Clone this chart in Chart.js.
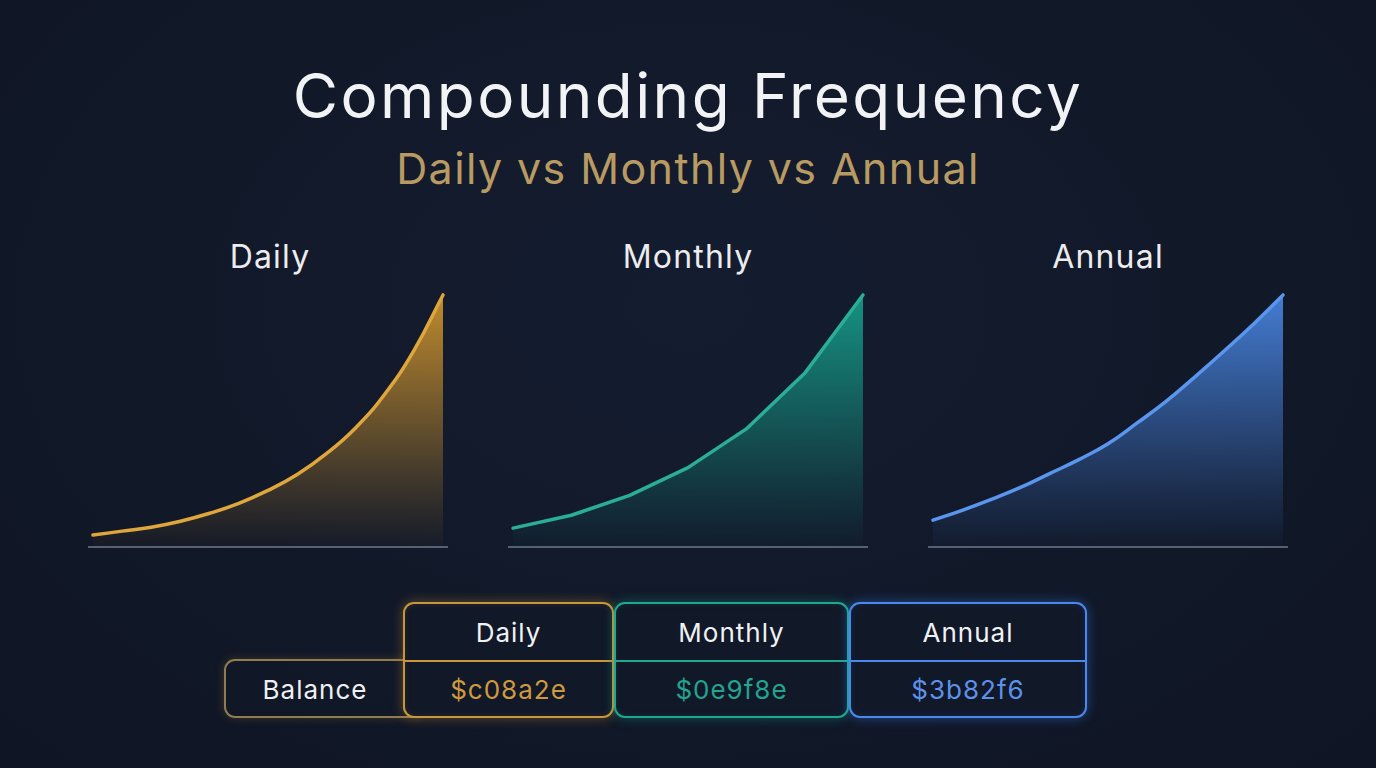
<!DOCTYPE html>
<html>
<head>
<meta charset="utf-8">
<script src="https://cdn.jsdelivr.net/npm/chart.js@4.4.0/dist/chart.umd.min.js"></script>
<style>
  html, body { margin: 0; padding: 0; }
  body {
    width: 1376px; height: 768px; overflow: hidden; position: relative;
    background: radial-gradient(ellipse at 50% 40%, #141d30 0%, #111828 60%, #0f1524 100%);
    font-family: "Inter", "Noto Sans", sans-serif; color: #f2f3f5;
  }
  .title { position: absolute; left: 0; width: 1376px; top: 58px; text-align: center;
    font-size: 62px; font-weight: 400; letter-spacing: 2.4px; }
  .subtitle { position: absolute; left: 0; width: 1376px; top: 142px; text-align: center;
    font-size: 43px; color: #b89a62; letter-spacing: 1.4px; }
  .panel-title { position: absolute; width: 360px; top: 237px; text-align: center; font-size: 32px;
    color: #ececee; letter-spacing: 1.2px; }
  .box { position: absolute; box-sizing: border-box; border: 2px solid; border-radius: 11px; }
  .cell { position: absolute; left: 0; right: 0; height: 57px; line-height: 57px; text-align: center;
    font-size: 26px; letter-spacing: 1px; }
  canvas { position: absolute; }
</style>
</head>
<body>
<div class="title">Compounding Frequency</div>
<div class="subtitle">Daily vs Monthly vs Annual</div>

<div class="panel-title" style="left:90px">Daily</div>
<div class="panel-title" style="left:508px">Monthly</div>
<div class="panel-title" style="left:928px">Annual</div>

<div style="position:absolute; left:88px; top:288px; width:360px; height:260px"><canvas id="dailyChart"></canvas></div>
<div style="position:absolute; left:508px; top:288px; width:360px; height:260px"><canvas id="monthlyChart"></canvas></div>
<div style="position:absolute; left:928px; top:288px; width:360px; height:260px"><canvas id="annualChart"></canvas></div>

<!-- tablo -->
<div class="box" style="left:224px; top:659px; width:200px; height:59px; border-color:#8f7d52; box-shadow:0 0 10px rgba(192,138,46,0.25)">
  <div class="cell" style="top:0; width:178px; color:#eef0f2">Balance</div>
</div>
<div id="tableCols"></div>

<script>
// x ekseni: dönem numaraları, y: bakiye (grafikten okunan tahmini değerler)
const dailyPeriods = [0, 1, 2, 3, 4, 5, 6, 7, 8, 9, 10, 11, 12];
const dailyBalance = [13, 17, 21, 27, 35, 45, 58, 74, 95, 121, 155, 199, 255];

const monthlyPeriods = [0, 1, 2, 3, 4, 5, 6];
const monthlyBalance = [20, 33, 53, 81, 120, 176, 255];

const annualPeriods = [0, 1, 2, 3, 4, 5, 6, 7, 8, 9, 10, 11, 12];
const annualBalance = [28, 38, 49, 61, 75, 89, 105, 126, 148, 173, 199, 226, 255];

// tablo
const tableHeaders = ['Daily', 'Monthly', 'Annual'];
const tableValues = ['$c08a2e', '$0e9f8e', '$3b82f6'];

function rgba(rgb, a) {
    return 'rgba(' + rgb.join(',') + ',' + a + ')';
}

// taban çizgisi + çizgi altı hafif gölge
const baseLine = {
    id: 'baseLine',
    beforeDatasetsDraw(chart) {
        const a = chart.chartArea;
        const c = chart.ctx;
        c.save();
        c.strokeStyle = '#566074';
        c.lineWidth = 2;
        c.beginPath();
        c.moveTo(0, a.bottom - 1);
        c.lineTo(chart.width, a.bottom - 1);
        c.stroke();
        c.restore();
    }
};

function makeChart(id, xs, ys, lineColor, fillRgb, tension, pad) {
    const points = xs.map((x, i) => ({ x: x, y: ys[i] }));
    new Chart(document.getElementById(id).getContext('2d'), {
        type: 'line',
        data: {
            datasets: [{
                data: points,
                borderColor: lineColor,
                borderWidth: 3.5,
                borderCapStyle: 'round',
                borderJoinStyle: 'round',
                pointRadius: 0,
                tension: tension,
                fill: 'origin',
                backgroundColor: function (ctx) {
                    const a = ctx.chart.chartArea;
                    if (!a) return null;
                    const g = ctx.chart.ctx.createLinearGradient(0, a.top, 0, a.bottom);
                    g.addColorStop(0, rgba(fillRgb, 0.92));
                    g.addColorStop(0.45, rgba(fillRgb, 0.5));
                    g.addColorStop(0.8, rgba(fillRgb, 0.18));
                    g.addColorStop(1, rgba(fillRgb, 0.02));
                    return g;
                }
            }]
        },
        options: {
            responsive: true,
            maintainAspectRatio: false,
            animation: false,
            layout: { padding: 0 },
            scales: {
                x: { type: 'linear', display: false, min: xs[0] - pad, max: xs[xs.length - 1] + pad },
                y: { display: false, min: 0, max: 262 }
            },
            plugins: { legend: { display: false }, tooltip: { enabled: false } }
        },
        plugins: [baseLine]
    });
}

makeChart('dailyChart', dailyPeriods, dailyBalance, '#e0a63e', [212, 152, 46], 0.45, 0.17);
makeChart('monthlyChart', monthlyPeriods, monthlyBalance, '#2aae97', [22, 160, 140], 0, 0.086);
makeChart('annualChart', annualPeriods, annualBalance, '#5a95ee', [74, 136, 230], 0.45, 0.17);

// tablo sütunları
const colBoxes = [
    { left: 403, width: 211, border: '#c8973c', glow: 'rgba(192,138,46,0.45)', text: '#cf9a3e' },
    { left: 614, width: 235, border: '#1fa88f', glow: 'rgba(14,159,142,0.45)', text: '#23a48e' },
    { left: 849, width: 238, border: '#4a88ee', glow: 'rgba(59,130,246,0.45)', text: '#5d92ea' }
];
const holder = document.getElementById('tableCols');
colBoxes.forEach(function (b, i) {
    const d = document.createElement('div');
    d.className = 'box';
    d.style.cssText = 'left:' + b.left + 'px; top:602px; width:' + b.width + 'px; height:116px; border-color:' + b.border +
        '; background:#111828; box-shadow:0 0 12px ' + b.glow + ', inset 0 0 6px ' + b.glow.replace('0.45', '0.15');
    d.innerHTML = '<div class="cell" style="top:0; color:#f0f1f3">' + tableHeaders[i] + '</div>' +
        '<div style="position:absolute; left:0; right:0; top:56px; height:2px; background:' + b.border + '"></div>' +
        '<div class="cell" style="top:57px; color:' + b.text + '">' + tableValues[i] + '</div>';
    holder.appendChild(d);
});
</script>
</body>
</html>
